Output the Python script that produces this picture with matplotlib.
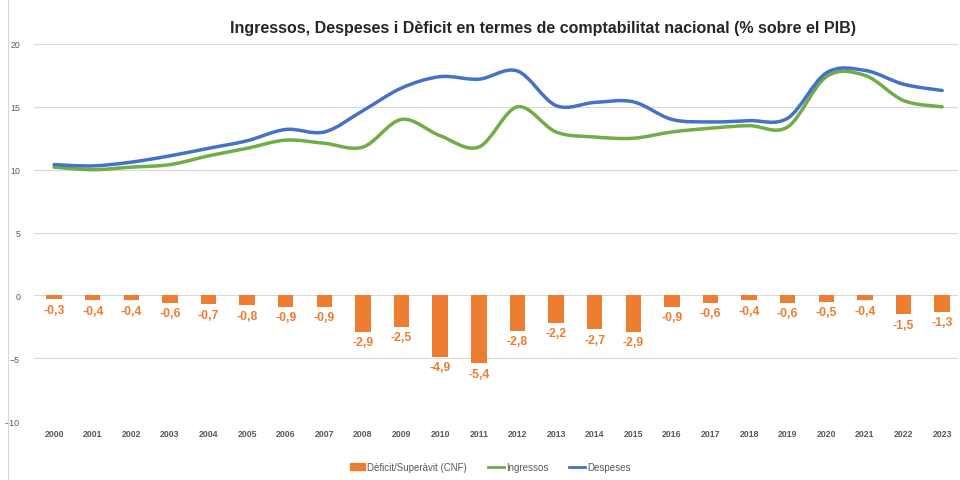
import numpy as np
import matplotlib
matplotlib.use("Agg")
import matplotlib.pyplot as plt
from matplotlib.path import Path
from matplotlib.patches import PathPatch
from matplotlib.lines import Line2D
from matplotlib.patches import Patch

plt.rcParams['font.family'] = ['Liberation Sans', 'DejaVu Sans']

years = [str(y) for y in range(2000, 2024)]
deficit = [-0.3, -0.4, -0.4, -0.6, -0.7, -0.8, -0.9, -0.9, -2.9, -2.5, -4.9, -5.4,
           -2.8, -2.2, -2.7, -2.9, -0.9, -0.6, -0.4, -0.6, -0.5, -0.4, -1.5, -1.3]
ingressos = [10.2, 10.0, 10.2, 10.4, 11.1, 11.7, 12.35, 12.1, 11.8, 14.0, 12.7, 11.8,
             15.0, 13.0, 12.6, 12.5, 13.0, 13.3, 13.5, 13.4, 17.4, 17.5, 15.5, 15.0]
despeses = [10.4, 10.3, 10.6, 11.1, 11.7, 12.3, 13.2, 13.0, 14.7, 16.5, 17.4, 17.2,
            17.85, 15.1, 15.35, 15.4, 14.0, 13.8, 13.9, 14.1, 17.7, 17.9, 16.8, 16.3]

c_bar = '#ED7D31'
c_ing = '#70AD47'
c_des = '#4472C4'


def smooth_path(xs, ys, t=1 / 6):
    # catmull-rom style bezier through the points, like excel "smoothed line"
    verts = [(xs[0], ys[0])]
    codes = [Path.MOVETO]
    n = len(xs)
    for i in range(n - 1):
        x0, y0 = (xs[i - 1], ys[i - 1]) if i > 0 else (xs[i], ys[i])
        x1, y1 = xs[i], ys[i]
        x2, y2 = xs[i + 1], ys[i + 1]
        x3, y3 = (xs[i + 2], ys[i + 2]) if i + 2 < n else (x2, y2)
        verts += [(x1 + (x2 - x0) * t, y1 + (y2 - y0) * t),
                  (x2 - (x3 - x1) * t, y2 - (y3 - y1) * t),
                  (x2, y2)]
        codes += [Path.CURVE4] * 3
    return Path(verts, codes)


fig = plt.figure(figsize=(9.6, 4.81), dpi=100)
ax = fig.add_axes([34 / 960, 1 - 422 / 481, (958 - 34) / 960, (422 - 45) / 481])

x = np.arange(len(years))
ax.bar(x, deficit, width=0.4, color=c_bar, zorder=2)
for xi, v in zip(x, deficit):
    ax.text(xi, v - 0.35, f"{v:.1f}".replace('.', ','), ha='center', va='top',
            fontsize=8.8, color=c_bar, fontweight='bold')

for vals, col in [(ingressos, c_ing), (despeses, c_des)]:
    ax.add_patch(PathPatch(smooth_path(x, vals), facecolor='none', edgecolor=col,
                           lw=2.5, zorder=3, capstyle='round'))

ax.set_xlim(-0.52, 23.41)
ax.set_ylim(-10, 20)
ax.set_yticks(range(-10, 21, 5))
ax.set_xticks(x)
ax.set_xticklabels(years)
ax.tick_params(axis='both', length=0, labelsize=6.3, colors='#595959')
ax.tick_params(axis='x', pad=6)
ax.tick_params(axis='y', pad=10)
for lab in ax.get_xticklabels():
    lab.set_fontweight('bold')
ax.grid(axis='y', color='#D9D9D9', lw=0.8, zorder=0)
for s in ax.spines.values():
    s.set_visible(False)

fig.text(543 / 960, 1 - 28 / 481,
         'Ingressos, Despeses i Dèficit en termes de comptabilitat nacional (% sobre el PIB)',
         ha='center', va='center', fontsize=11.5, fontweight='bold', color='#262626')

handles = [Patch(color=c_bar), Line2D([], [], color=c_ing, lw=2), Line2D([], [], color=c_des, lw=2)]
fig.legend(handles, ['Dèficit/Superàvit (CNF)', 'Ingressos', 'Despeses'],
           loc='center', bbox_to_anchor=(490 / 960, 1 - 468 / 481), ncol=3, frameon=False,
           fontsize=7, handlelength=1.6, handletextpad=0.2, columnspacing=2.2,
           labelcolor='#595959')

fig.add_artist(Line2D([8 / 960, 8 / 960], [0, 1], color='#D9D9D9', lw=0.8))

fig.savefig('out.png', dpi=100)
